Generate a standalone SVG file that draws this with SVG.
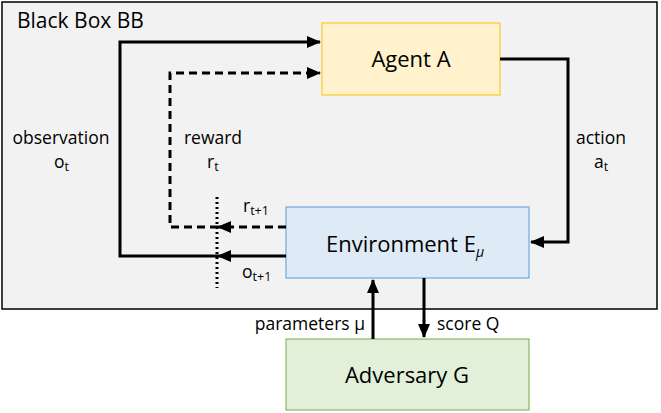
<svg xmlns="http://www.w3.org/2000/svg" width="661" height="413" viewBox="0 0 661 413">
<style>
text{font-family:"Open Sans","Liberation Sans",sans-serif;fill:#000}
.lbl{font-size:17.5px}
.node{font-size:22px}
.sub{font-size:12.5px}
.ln{fill:none;stroke:#000;stroke-width:3}
.dash{stroke-dasharray:8,5}
</style>
<defs>
<marker id="ahb" markerWidth="14" markerHeight="12" refX="13" refY="6" orient="auto" markerUnits="userSpaceOnUse" viewBox="0 0 14 12">
<path d="M0,0 L14,6 L0,12 z" fill="#000"/>
</marker>
</defs>
<g id="blackbox">
<rect x="2" y="2" width="655" height="307" fill="#f2f2f2" stroke="#000" stroke-width="1.5"/>
<text x="17" y="28" style="font-size:21px">Black Box BB</text>
</g>
<g id="agent">
<rect x="322" y="23" width="178" height="72" fill="#fff2cc" stroke="#ffc000" stroke-width="1"/>
<text x="411" y="67" class="node" text-anchor="middle">Agent A</text>
</g>
<g id="environment">
<rect x="286" y="207" width="243" height="71" fill="#deebf7" stroke="#5b9bd5" stroke-width="1"/>
<text x="405" y="252" class="node" text-anchor="middle">Environment E<tspan dy="5" font-style="italic" style="font-size:14px">μ</tspan></text>
</g>
<g id="adversary">
<rect x="286" y="339" width="243" height="71" fill="#e2f0d9" stroke="#70ad47" stroke-width="1"/>
<text x="407" y="383" class="node" text-anchor="middle">Adversary G</text>
</g>
<g id="connectors">
<path class="ln" d="M286,256 H218" marker-end="url(#ahb)"/>
<path class="ln" d="M218,256 H120 V42 H320" marker-end="url(#ahb)"/>
<path class="ln dash" d="M286,227 H218" marker-end="url(#ahb)"/>
<path class="ln dash" d="M218,227 H170 V73 H320" marker-end="url(#ahb)"/>
<path class="ln" d="M500,59 H568 V242 H531" marker-end="url(#ahb)"/>
<path class="ln" d="M373,339 V280" marker-end="url(#ahb)"/>
<path class="ln" d="M424,278 V337" marker-end="url(#ahb)"/>
<path d="M217,197 V288" fill="none" stroke="#000" stroke-width="3" stroke-dasharray="2,3"/>
</g>
<g id="labels">
<text x="61" y="144" class="lbl" text-anchor="middle">observation</text>
<text x="54" y="168" class="lbl">o<tspan class="sub" dy="3">t</tspan></text>
<text x="213" y="144" class="lbl" text-anchor="middle">reward</text>
<text x="207" y="168" class="lbl">r<tspan class="sub" dy="3">t</tspan></text>
<text x="243" y="212" class="lbl">r<tspan class="sub" dy="3">t+1</tspan></text>
<text x="242" y="278" class="lbl">o<tspan class="sub" dy="3">t+1</tspan></text>
<text x="601" y="144" class="lbl" text-anchor="middle">action</text>
<text x="594" y="168" class="lbl">a<tspan class="sub" dy="3">t</tspan></text>
<text x="365" y="330" class="lbl" text-anchor="end">parameters μ</text>
<text x="437" y="330" class="lbl">score Q</text>
</g>
</svg>
